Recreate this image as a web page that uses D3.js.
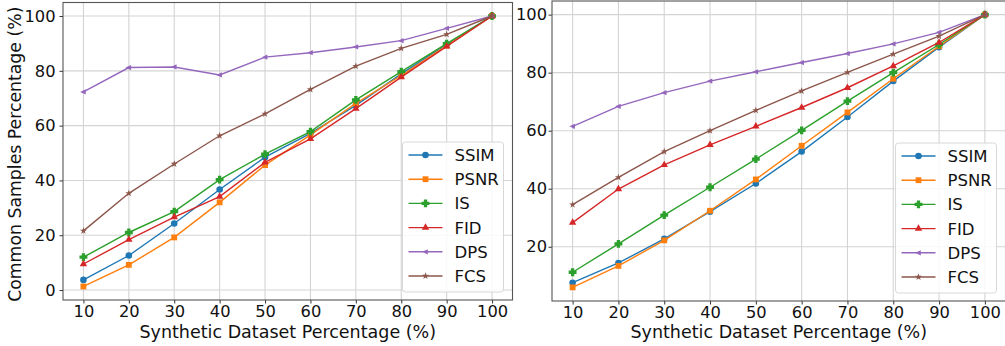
<!DOCTYPE html>
<html>
<head>
<meta charset="utf-8">
<script src="https://cdn.jsdelivr.net/npm/d3@7"></script>
<style>
  body { margin: 0; background: #fff; }
  svg { display: block; font-family: "DejaVu Sans", sans-serif; }
</style>
</head>
<body>
<svg id="chart" width="1005" height="346"></svg>
<script>
// x values shared by both panels
var xValues = [10, 20, 30, 40, 50, 60, 70, 80, 90, 100];
var seriesNames = ["SSIM", "PSNR", "IS", "FID", "DPS", "FCS"];
var seriesColors = ["#1f77b4", "#ff7f0e", "#2ca02c", "#d62728", "#9467bd", "#8c564b"];
var yTicks = [0, 20, 40, 60, 80, 100];

// left panel
var leftSSIM = [3.7, 12.6, 24.3, 36.7, 48.5, 57.2, 67.4, 78.9, 89.7, 100];
var leftPSNR = [1.3, 9.2, 19.2, 32.0, 45.6, 56.6, 68.1, 78.3, 89.2, 100];
var leftIS   = [12.0, 21.0, 28.6, 40.3, 49.6, 57.8, 69.4, 79.7, 89.9, 100];
var leftFID  = [9.5, 18.4, 26.6, 34.1, 46.6, 55.2, 66.2, 77.7, 88.9, 100];
var leftDPS  = [72.3, 81.2, 81.4, 78.5, 85.0, 86.6, 88.7, 91.0, 95.5, 100];
var leftFCS  = [21.6, 35.3, 46.0, 56.3, 64.3, 73.2, 81.7, 88.2, 93.3, 100];

// right panel
var rightSSIM = [7.6, 14.4, 22.7, 32.1, 41.8, 52.8, 64.7, 77.1, 88.8, 100];
var rightPSNR = [6.0, 13.4, 22.2, 32.4, 43.2, 54.8, 66.3, 77.9, 89.1, 100];
var rightIS   = [11.2, 21.0, 30.9, 40.5, 50.2, 60.1, 70.2, 80.0, 89.7, 100];
var rightFID  = [28.3, 39.9, 48.2, 55.1, 61.5, 68.0, 74.8, 82.3, 90.4, 100];
var rightDPS  = [61.5, 68.4, 73.1, 77.1, 80.3, 83.5, 86.6, 89.9, 93.9, 100];
var rightFCS  = [34.5, 43.9, 52.8, 60.0, 67.0, 73.7, 80.1, 86.4, 92.6, 100];

var svg = d3.select("#chart");

// marker shapes, one per series
var triLeft = { draw: function (ctx, size) {
  var r = Math.sqrt(size) * 0.7;
  ctx.moveTo(-r, 0); ctx.lineTo(r * 0.7, -r * 0.8); ctx.lineTo(r * 0.7, r * 0.8); ctx.closePath();
}};
// thick filled plus, like matplotlib "P"
var plusFilled = { draw: function (ctx, size) {
  var r = Math.sqrt(size) / 2, a = r * 0.42;
  ctx.moveTo(-a, -r); ctx.lineTo(a, -r); ctx.lineTo(a, -a); ctx.lineTo(r, -a);
  ctx.lineTo(r, a); ctx.lineTo(a, a); ctx.lineTo(a, r); ctx.lineTo(-a, r);
  ctx.lineTo(-a, a); ctx.lineTo(-r, a); ctx.lineTo(-r, -a); ctx.lineTo(-a, -a); ctx.closePath();
}};
var markers = [
  { type: d3.symbolCircle, size: 34 },
  { type: d3.symbolSquare, size: 34 },
  { type: plusFilled, size: 62 },
  { type: d3.symbolTriangle, size: 24 },
  { type: triLeft, size: 22 },
  { type: d3.symbolStar, size: 16 }
];

function panel(box, series, showYLabel, tickGap) {
  var all = [].concat.apply([], series);
  var lo = d3.min(all), hi = d3.max(all), pad = (hi - lo) * 0.05;

  var x = d3.scaleLinear().domain([5.5, 104.5]).range([box.left, box.right]);
  var y = d3.scaleLinear().domain([lo - pad, hi + pad]).range([box.bottom, box.top]);

  var g = svg.append("g");

  // grid
  g.selectAll(".gx").data(xValues).enter().append("line")
    .attr("x1", d => x(d)).attr("x2", d => x(d))
    .attr("y1", box.top).attr("y2", box.bottom)
    .attr("stroke", "#d4d4d4").attr("stroke-width", 1.1);
  g.selectAll(".gy").data(yTicks.filter(d => y(d) < box.bottom)).enter().append("line")
    .attr("x1", box.left).attr("x2", box.right)
    .attr("y1", d => y(d)).attr("y2", d => y(d))
    .attr("stroke", "#d4d4d4").attr("stroke-width", 1.1);

  // axes
  var xAxis = d3.axisBottom(x).tickValues(xValues).tickSize(3.5).tickPadding(2);
  var yAxis = d3.axisLeft(y).tickValues(yTicks.filter(d => y(d) < box.bottom)).tickSize(3.5).tickPadding(tickGap);
  var gx = g.append("g").attr("transform", "translate(0," + box.bottom + ")").call(xAxis);
  var gy = g.append("g").attr("transform", "translate(" + box.left + ",0)").call(yAxis);
  [gx, gy].forEach(function (a) {
    a.select(".domain").remove();
    a.selectAll(".tick line").attr("stroke", "#333");
    a.selectAll(".tick text").attr("fill", "#111").style("font-size", "16.3px")
      .style("font-family", "DejaVu Sans");
  });

  // lines + markers
  var line = d3.line().x((d, i) => x(xValues[i])).y(d => y(d));
  series.forEach(function (vals, k) {
    g.append("path").datum(vals)
      .attr("d", line).attr("fill", "none")
      .attr("stroke", seriesColors[k]).attr("stroke-width", 1.4);
    g.selectAll(".m" + k).data(vals).enter().append("path")
      .attr("transform", (d, i) => "translate(" + x(xValues[i]) + "," + y(d) + ")")
      .attr("d", d3.symbol().type(markers[k].type).size(markers[k].size))
      .attr("fill", seriesColors[k]);
  });

  // frame
  g.append("rect")
    .attr("x", box.left).attr("y", box.top)
    .attr("width", box.right - box.left).attr("height", box.bottom - box.top)
    .attr("fill", "none").attr("stroke", "#555").attr("stroke-width", 1.1);

  // legend
  var lw = 101, lh = 150;
  var lx = box.right - 9 - lw, ly = box.bottom - 8 - lh;
  var lg = g.append("g").attr("transform", "translate(" + lx + "," + ly + ")");
  lg.append("rect").attr("width", lw).attr("height", lh).attr("rx", 3)
    .attr("fill", "#fff").attr("fill-opacity", 0.85)
    .attr("stroke", "#d8d8d8").attr("stroke-width", 1);
  seriesNames.forEach(function (name, k) {
    var yy = 13 + k * 24.2;
    lg.append("line").attr("x1", 6).attr("x2", 40).attr("y1", yy).attr("y2", yy)
      .attr("stroke", seriesColors[k]).attr("stroke-width", 1.4);
    lg.append("path").attr("transform", "translate(23," + yy + ")")
      .attr("d", d3.symbol().type(markers[k].type).size(markers[k].size))
      .attr("fill", seriesColors[k]);
    lg.append("text").attr("x", 52).attr("y", yy).attr("dy", "0.36em")
      .style("font-size", "16.5px").attr("fill", "#111").text(name);
  });

  // x label
  g.append("text")
    .attr("x", (box.left + box.right) / 2).attr("y", 337.5)
    .attr("text-anchor", "middle").style("font-size", "17.5px").attr("fill", "#111")
    .text("Synthetic Dataset Percentage (%)");

  if (showYLabel) {
    g.append("text")
      .attr("transform", "translate(21," + ((box.top + box.bottom) / 2 + 3) + ") rotate(-90)")
      .attr("text-anchor", "middle").style("font-size", "17.3px").attr("fill", "#111")
      .text("Common Samples Percentage (%)");
  }
}

panel({ left: 63, right: 512.5, top: 2.5, bottom: 300 },
  [leftSSIM, leftPSNR, leftIS, leftFID, leftDPS, leftFCS], true, 4);
panel({ left: 552, right: 1005.5, top: 1, bottom: 301 },
  [rightSSIM, rightPSNR, rightIS, rightFID, rightDPS, rightFCS], false, 1.5);
</script>
</body>
</html>
